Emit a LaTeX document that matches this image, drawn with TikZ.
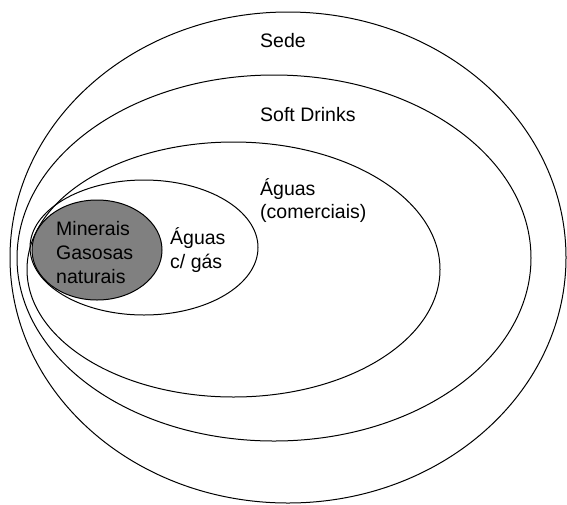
\documentclass[tikz,border=0pt]{standalone}
\usepackage{fontspec}
\setmainfont{Liberation Sans}
\begin{document}
\begin{tikzpicture}[x=1pt,y=-1pt,
  ring/.style={draw=black,line width=1pt},
  lbl/.style={font=\fontsize{19.5}{23.5}\selectfont,anchor=base west,inner sep=0pt}]
\useasboundingbox (0,0) rectangle (567,504);
\draw[ring] (288,257.5) ellipse [x radius=278,y radius=245.5];
\draw[ring] (274,258) ellipse [x radius=257,y radius=183];
\draw[ring] (233.5,269.5) ellipse [x radius=206.5,y radius=127.5];
\draw[ring] (144,247.5) ellipse [x radius=114,y radius=67.5];
\draw[ring,fill={rgb,255:red,128;green,128;blue,128}] (97,250) ellipse [x radius=65,y radius=50];
\node[lbl] (sede) at (260,47) {Sede};
\node[lbl] (soft) at (260,121) {Soft Drinks};
\node[lbl] (agc1) at (260,195) {Águas};
\node[lbl] (agc2) at (260,218) {(comerciais)};
\node[lbl] (agg1) at (170,244) {Águas};
\node[lbl] (agg2) at (170,268) {c/ gás};
\node[lbl] (min1) at (56,235) {Minerais};
\node[lbl] (min2) at (56,259) {Gasosas};
\node[lbl] (min3) at (56,283) {naturais};
\end{tikzpicture}
\end{document}
